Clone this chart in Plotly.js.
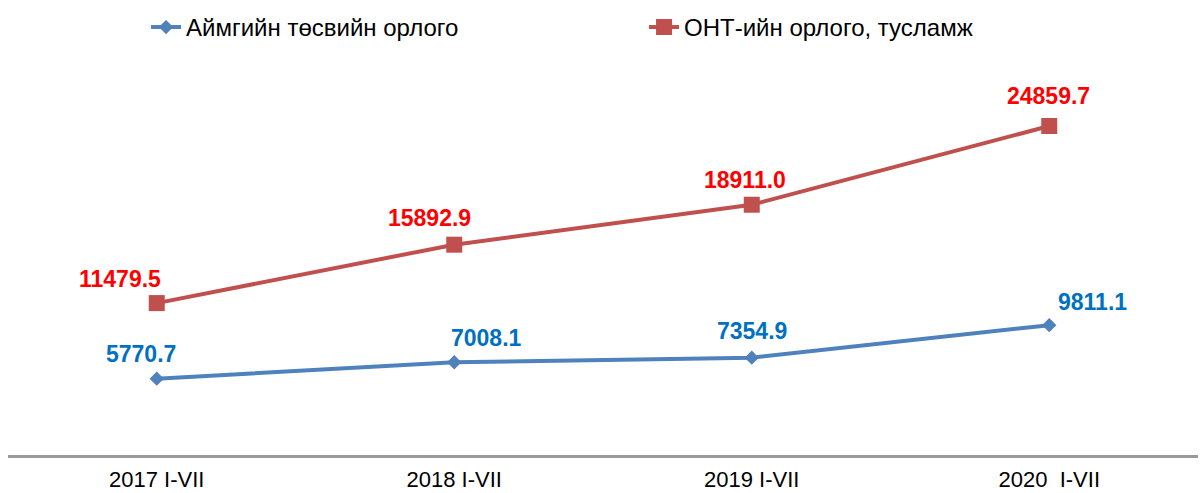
<!DOCTYPE html>
<html>
<head>
<meta charset="utf-8">
<script src="https://cdn.plot.ly/plotly-3.0.1.min.js"></script>
<style>html,body{margin:0;padding:0;background:#fff;}#chart{width:1202px;height:493px;}</style>
</head>
<body>
<div id="chart"></div>
<script>
var categories = ["2017 I-VII", "2018 I-VII", "2019 I-VII", "2020\u00a0 I-VII"];
var seriesNames = ["Аймгийн төсвийн орлого", "ОНТ-ийн орлого, тусламж"];
var aimagValues = [5770.7, 7008.1, 7354.9, 9811.1];
var ontValues = [11479.5, 15892.9, 18911.0, 24859.7];

var blueShift = [[-16, 25], [32, 24], [0, 27], [43, 23]];
var redShift = [[-37, 24], [-25, 27], [-7, 25], [-1, 30]];

var traces = [
  {x: categories, y: aimagValues, name: seriesNames[0], type: 'scatter', mode: 'lines+markers',
   line: {color: '#4F81BD', width: 4}, marker: {symbol: 'diamond', size: 11, color: '#4F81BD'}},
  {x: categories, y: ontValues, name: seriesNames[1], type: 'scatter', mode: 'lines+markers',
   line: {color: '#C0504D', width: 4}, marker: {symbol: 'square', size: 16, color: '#C0504D'}}
];

var annotations = [];
function addLabels(vals, color, shifts) {
  vals.forEach(function (v, i) {
    annotations.push({x: categories[i], y: v, xref: 'x', yref: 'y', text: v.toFixed(1),
      showarrow: false, xanchor: 'center', yanchor: 'middle',
      xshift: shifts[i][0], yshift: shifts[i][1],
      font: {family: 'Liberation Sans, Arial, sans-serif', size: 23, color: color, weight: 'bold'}});
  });
}
addLabels(aimagValues, '#0070C0', blueShift);
addLabels(ontValues, '#FF0000', redShift);

var layout = {
  width: 1202, height: 493,
  margin: {l: 8, r: 4, t: 58, b: 38},
  paper_bgcolor: '#fff', plot_bgcolor: '#fff',
  font: {family: 'Liberation Sans, Arial, sans-serif', color: '#000'},
  showlegend: true,
  legend: {orientation: 'h', x: 0.116, xanchor: 'left', y: 0.99, yanchor: 'top', yref: 'container',
    entrywidth: 453, entrywidthmode: 'pixels', font: {size: 24, color: '#000'}, bgcolor: 'rgba(0,0,0,0)'},
  xaxis: {type: 'category', range: [-0.5, 3.5], showgrid: false, zeroline: false, showline: true, linecolor: '#9A9A9A', linewidth: 3,
    ticks: '', tickfont: {size: 22, color: '#000'}, ticklabelstandoff: 3, fixedrange: true},
  yaxis: {range: [0, 30000], visible: false, showgrid: false, zeroline: false, fixedrange: true},
  annotations: annotations
};

Plotly.newPlot('chart', traces, layout, {displayModeBar: false, staticPlot: true});
</script>
</body>
</html>
